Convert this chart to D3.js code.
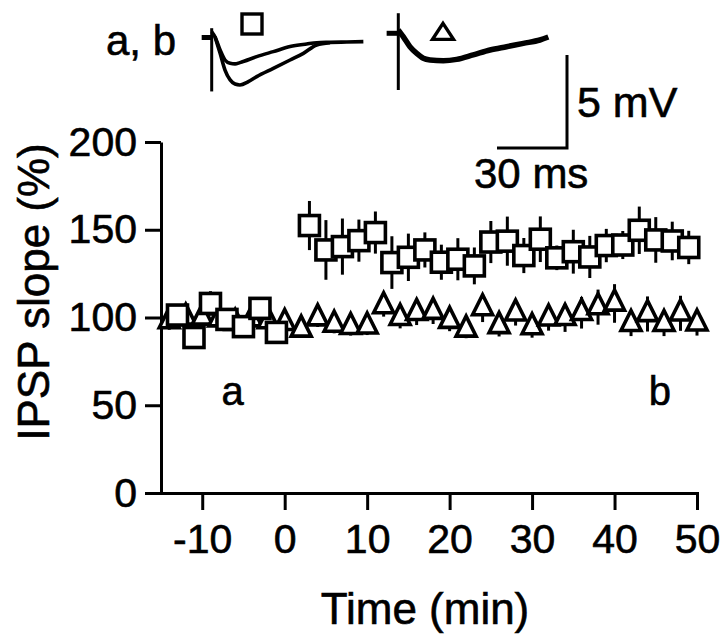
<!DOCTYPE html>
<html><head><meta charset="utf-8">
<script src="https://cdn.jsdelivr.net/npm/d3@7"></script>
<style>
body{margin:0;background:#fff}
svg{display:block}
text{font-family:"Liberation Sans",Arial,Helvetica,sans-serif;fill:#000;stroke:#000;stroke-width:0.6px}
</style>
</head><body>
<svg id="c" width="720" height="637"></svg>
<script>
// ---- data: squares (IPSP slope %, mean and SEM) ----
const squareTimes = [-13,-11,-9,-7,-5,-3,-1,3,5,7,9,11,13,15,17,19,21,23,25,27,29,31,33,35,37,39,41,43,45,47,49];
const squareValues = [101.4,88.6,108,98.9,94.8,105.2,91.5,152.4,138.5,140.4,143.8,148.4,131.3,134.3,138.5,131.5,133.2,129.4,143,143.5,135.3,144.6,134,137.5,134.5,141,141.3,149.7,144.2,143.6,139.9];
const squareSem = [4,5,7,4,4,5,4,14,17,16,12,12,15,13.5,10,10,12,10.5,12,14,10,13,7,12.5,12,9.5,8,13.5,13,11,9.5];
// ---- data: triangles ----
const triangleTimes = [-14,-12,-10,-8,-6,-4,-2,0,2,4,6,8,10,12,14,16,18,20,22,24,26,28,30,32,34,36,38,40,42,44,46,48,50];
const triangleValues = [98,100,100,99,97,99,98,97,93.2,99.6,96,94.7,95,106.5,99.8,102.7,103.3,98.2,93.2,105.4,95.2,102.4,94.5,99.5,99.8,102.7,105.9,108,96.4,102,96.4,102.4,96.7];
const triangleSem = [5,5,5,5,5,5,5,5,4,5,5,5,5,6,6,7,7,6,5,8,6,7,6,7,8,9,10,11,7,10,7,10,7];
// ---- axis ticks ----
const xTicks = [-10,0,10,20,30,40,50];
const yTicks = [0,50,100,150,200];
// ---- example traces [ms, mV] ----
const traceSquareUpper = [[0,0.31],[1.4,0.04],[3.6,-0.67],[5.7,-1.21],[7.9,-1.39],[10,-1.42],[12.1,-1.35],[19.3,-1.03],[26.4,-0.76],[33.6,-0.49],[40.7,-0.35],[45,-0.28],[50.7,-0.26],[57.9,-0.24],[65,-0.22]];
const traceSquareLower = [[1.4,0.04],[3.6,-0.85],[5.7,-1.75],[7.9,-2.28],[10,-2.5],[12.1,-2.55],[15.7,-2.37],[19.3,-2.1],[26.4,-1.66],[33.6,-1.21],[39.3,-0.85],[45,-0.4],[50.7,-0.28]];
const traceTriangle = [[0,0.18],[2.1,-0.18],[5,-0.72],[7.9,-1.08],[10.7,-1.34],[13.6,-1.43],[19.3,-1.47],[25,-1.4],[32.1,-1.16],[39.3,-0.9],[46.4,-0.72],[53.6,-0.54],[60.7,-0.36],[64.3,-0.2]];
const preBaseline = [[-4.3,0],[0,0]];
const artifactSquare = [0.5,-2.9];
const artifactTriangle = [1.08,-3.05];
const scaleBar = {ms:30, mV:5};

const svg = d3.select("#c");
const x = d3.scaleLinear().domain([-15,50]).range([161,697]);
const y = d3.scaleLinear().domain([0,200]).range([493,142]);

// axes
const gx = svg.append("g").attr("transform","translate(0,493)")
  .call(d3.axisBottom(x).tickValues(xTicks).tickFormat(d=>String(d)).tickSize(17).tickSizeOuter(0).tickPadding(14));
const gy = svg.append("g").attr("transform","translate(161,0)")
  .call(d3.axisLeft(y).tickValues(yTicks).tickFormat(d=>String(d)).tickSize(16).tickSizeOuter(0).tickPadding(8));
[gx,gy].forEach(g=>{
  g.select(".domain").attr("stroke","#000").attr("stroke-width",3);
  g.selectAll(".tick line").attr("stroke","#000").attr("stroke-width",3);
  g.selectAll(".tick text").attr("font-size",41).attr("font-family",null).attr("fill","#000");
});
gx.select(".domain").attr("stroke-linecap","square");

// axis titles
svg.append("text").attr("x",425).attr("y",624).attr("text-anchor","middle").attr("font-size",44).text("Time (min)");
svg.append("text").attr("transform","translate(49,292) rotate(-90)").attr("text-anchor","middle").attr("font-size",44).text("IPSP slope (%)");

// triangle path
const triPath = (w,h)=>`M0,${-2*h/3}L${w/2},${h/3}L${-w/2},${h/3}Z`;

// error bars and markers
const tri = triangleTimes.map((t,i)=>({t,v:triangleValues[i],e:triangleSem[i]}));
const sq = squareTimes.map((t,i)=>({t,v:squareValues[i],e:squareSem[i]}));
svg.append("g").selectAll("line").data(tri).join("line")
  .attr("x1",d=>x(d.t)).attr("x2",d=>x(d.t)).attr("y1",d=>y(d.v-d.e)).attr("y2",d=>y(d.v+d.e))
  .attr("stroke","#000").attr("stroke-width",3);
svg.append("g").selectAll("path").data(tri).join("path")
  .attr("transform",d=>`translate(${x(d.t)},${y(d.v)})`).attr("d",triPath(20,20))
  .attr("fill","#fff").attr("stroke","#000").attr("stroke-width",3.6).attr("stroke-linejoin","miter");
svg.append("g").selectAll("line").data(sq).join("line")
  .attr("x1",d=>x(d.t)).attr("x2",d=>x(d.t)).attr("y1",d=>y(d.v-d.e)).attr("y2",d=>y(d.v+d.e))
  .attr("stroke","#000").attr("stroke-width",3);
svg.append("g").selectAll("rect").data(sq).join("rect")
  .attr("x",d=>x(d.t)-10).attr("y",d=>y(d.v)-10).attr("width",20).attr("height",20)
  .attr("fill","#fff").attr("stroke","#000").attr("stroke-width",3.6);

// annotations a, b
svg.append("text").attr("x",x(-6.3)).attr("y",405).attr("text-anchor","middle").attr("font-size",40).text("a");
svg.append("text").attr("x",x(45.5)).attr("y",405).attr("text-anchor","middle").attr("font-size",40).text("b");

// traces
const tx1 = d3.scaleLinear().domain([0,30]).range([211.7,281.7]);
const tx2 = d3.scaleLinear().domain([0,30]).range([398.3,468.3]);
const ty1 = d3.scaleLinear().domain([0,5]).range([37.5,-55.5]);
const ty2 = d3.scaleLinear().domain([0,5]).range([33.3,-59.7]);
const line1 = d3.line().x(d=>tx1(d[0])).y(d=>ty1(d[1])).curve(d3.curveMonotoneX);
const line2 = d3.line().x(d=>tx2(d[0])).y(d=>ty2(d[1])).curve(d3.curveMonotoneX);
const tg = svg.append("g").attr("fill","none").attr("stroke","#000");
tg.append("path").attr("d",line1(preBaseline)).attr("stroke-width",5);
tg.append("path").attr("d",line1(traceSquareUpper)).attr("stroke-width",3.6);
tg.append("path").attr("d",line1(traceSquareLower)).attr("stroke-width",3.6);
tg.append("line").attr("x1",tx1(0)).attr("x2",tx1(0)).attr("y1",ty1(artifactSquare[0])).attr("y2",ty1(artifactSquare[1])).attr("stroke-width",3);
tg.append("path").attr("d",line2([[-5,0],[0,0]])).attr("stroke-width",5);
tg.append("path").attr("d",line2(traceTriangle)).attr("stroke-width",5.5);
tg.append("line").attr("x1",tx2(0)).attr("x2",tx2(0)).attr("y1",ty2(artifactTriangle[0])).attr("y2",ty2(artifactTriangle[1])).attr("stroke-width",3);

// scale bar
const sbx = 567, sby = 148;
const msPx = tx1(scaleBar.ms)-tx1(0), mvPx = ty1(0)-ty1(scaleBar.mV);
tg.append("path").attr("d",`M${sbx-msPx},${sby}H${sbx}V${sby-mvPx}`).attr("stroke-width",3);
svg.append("text").attr("x",577).attr("y",117).attr("font-size",43).text("5 mV");
svg.append("text").attr("x",474).attr("y",188).attr("font-size",42).text("30 ms");

// legend-ish labels
svg.append("text").attr("x",106).attr("y",55).attr("font-size",42).text("a, b");
svg.append("rect").attr("x",242).attr("y",14).attr("width",20).attr("height",20).attr("fill","#fff").attr("stroke","#000").attr("stroke-width",3.4);
svg.append("path").attr("transform","translate(443,34)").attr("d",triPath(21,16)).attr("fill","#fff").attr("stroke","#000").attr("stroke-width",3.4);
</script>
</body></html>
